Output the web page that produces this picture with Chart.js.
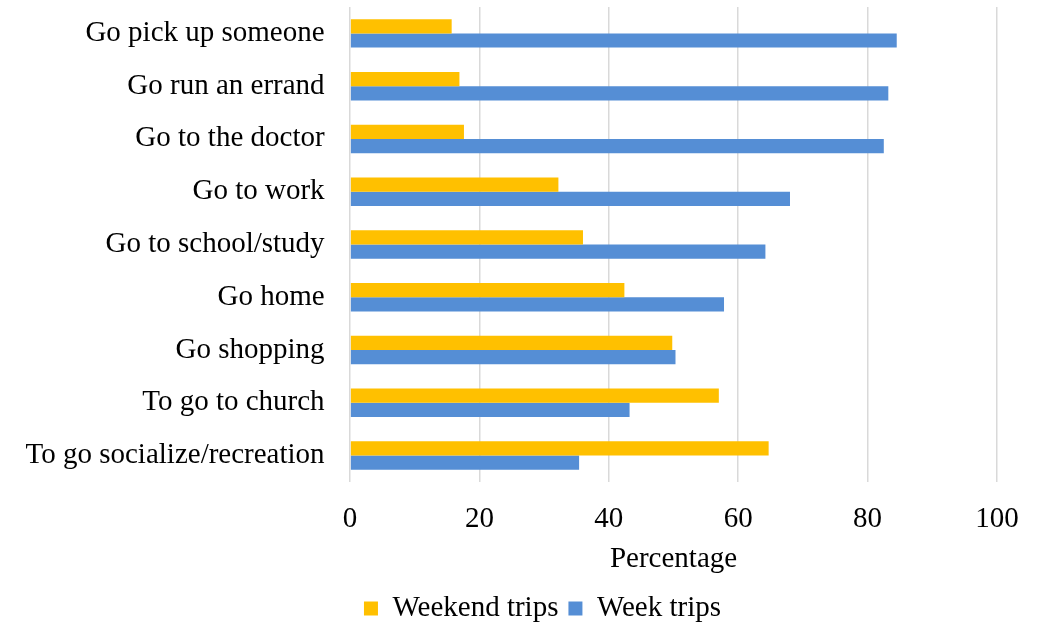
<!DOCTYPE html>
<html>
<head>
<meta charset="utf-8">
<script src="https://cdn.jsdelivr.net/npm/chart.js@4.4.1/dist/chart.umd.min.js"></script>
<style>
html,body{margin:0;padding:0;background:#fff;}
#wrap{width:1048px;height:625px;position:relative;}
</style>
</head>
<body>
<div id="wrap"><canvas id="c"></canvas></div>
<script>
const categories = ["Go pick up someone","Go run an errand","Go to the doctor","Go to work","Go to school/study","Go home","Go shopping","To go to church","To go socialize/recreation"];
const weekendTrips = [15.7, 16.9, 17.6, 32.2, 36.0, 42.4, 49.8, 57.0, 64.7];
const weekTrips = [84.5, 83.2, 82.5, 68.0, 64.2, 57.8, 50.3, 43.2, 35.4];
const xTicks = [0, 20, 40, 60, 80, 100];

const font = "'Liberation Serif', 'Times New Roman', serif";
const fs = 29;

const shiftLegend = {
  id: 'shiftLegend',
  afterLayout(chart) {
    const l = chart.legend;
    if (l) { l.left += 33; l.right += 33; }
  }
};

new Chart(document.getElementById('c'), {
  type: 'bar',
  data: {
    labels: categories,
    datasets: [
      {label: 'Weekend trips', data: weekendTrips, backgroundColor: '#FFC000', categoryPercentage: 0.54, barPercentage: 1.0},
      {label: 'Week trips', data: weekTrips, backgroundColor: '#558ED5', categoryPercentage: 0.54, barPercentage: 1.0}
    ]
  },
  plugins: [shiftLegend],
  options: {
    indexAxis: 'y',
    responsive: true,
    maintainAspectRatio: false,
    animation: false,
    layout: {padding: {top: 7, right: 51, left: 22, bottom: -8}},
    scales: {
      x: {
        min: 0, max: 100,
        afterBuildTicks: (axis) => { axis.ticks = xTicks.map(v => ({value: v})); },
        grid: {color: '#d9d9d9', lineWidth: 1.5, drawTicks: false},
        border: {display: false},
        ticks: {color: '#000', font: {family: font, size: fs}, padding: 20},
        title: {display: true, text: 'Percentage', color: '#000', font: {family: font, size: fs}, padding: {top: -15, bottom: 7.6}}
      },
      y: {
        afterFit: (axis) => { axis.paddingTop = 0; axis.paddingBottom = 0; },
        grid: {display: true, color: 'rgba(0,0,0,0)', drawTicks: true, tickLength: 22, drawOnChartArea: false},
        border: {display: false},
        ticks: {color: '#000', font: {family: font, size: fs}, padding: 3.5}
      }
    },
    plugins: {
      legend: {
        position: 'bottom',
        labels: {color: '#000', font: {family: font, size: fs}, boxWidth: 14, boxHeight: 14, padding: 10}
      },
      tooltip: {enabled: false}
    }
  }
});
</script>
</body>
</html>
